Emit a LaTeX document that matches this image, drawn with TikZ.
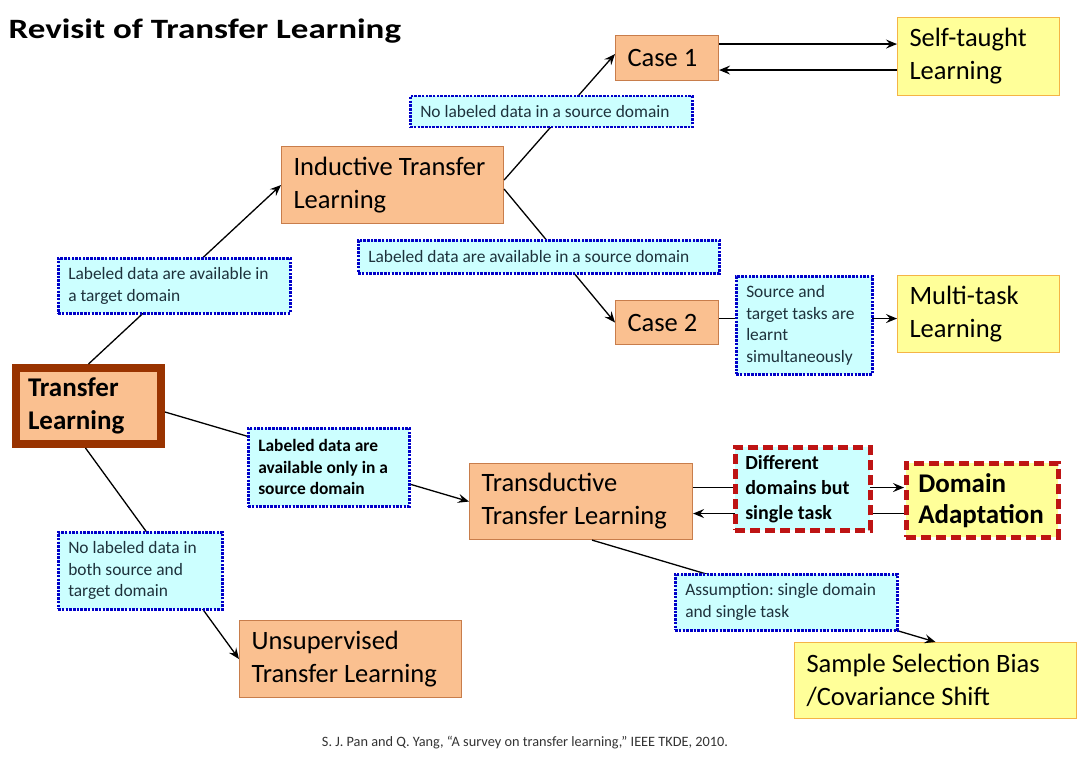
\documentclass[tikz,border=0pt]{standalone}
\usepackage{fontspec}
\setmainfont{Carlito}
\usepackage{xcolor}
\usetikzlibrary{arrows.meta, positioning, calc}
\frenchspacing

\definecolor{peach}{RGB}{250,192,144}
\definecolor{peachline}{RGB}{200,125,75}
\definecolor{lightyellow}{RGB}{255,255,153}
\definecolor{yellowline}{RGB}{245,180,70}
\definecolor{lightcyan}{RGB}{204,255,255}
\definecolor{dotblue}{RGB}{0,0,200}
\definecolor{condtext}{RGB}{30,50,60}
\definecolor{dashred}{RGB}{190,20,20}
\definecolor{tlbrown}{RGB}{153,51,0}

\begin{document}
\begin{tikzpicture}[x=1pt, y=-1pt, ->, >={Stealth[length=11pt, width=9pt, inset=4pt]}, line width=1.3pt]
  \tikzstyle{tbox} = [draw=peachline, fill=peach, line width=1.1pt, anchor=north west, align=flush left, inner xsep=12pt, inner ysep=0pt, font=\fontsize{26.5}{33}\selectfont]
  \tikzstyle{ybox} = [tbox, draw=yellowline, fill=lightyellow]
  \tikzstyle{cond} = [draw=dotblue, fill=lightcyan, line width=2.5pt, dash pattern=on 2.5pt off 1.2pt, anchor=north west, align=flush left, inner xsep=10pt, inner ysep=0pt, text=condtext, font=\fontsize{17.4}{21.7}\selectfont]
  \tikzstyle{redcut} = [draw=dashred, line width=4.5pt, dash pattern=on 10pt off 5pt]

  \useasboundingbox (0,0) rectangle (1080,757);

  \node[anchor=base west, inner sep=0pt, font=\bfseries\fontsize{28}{34}\selectfont] (title) at (8,39) {\scalebox{1.25}[1]{Revisit of Transfer Learning}};

  % main boxes
  \node[tbox, draw=tlbrown, line width=8pt, minimum height=76pt, text width=121pt, font=\bfseries\fontsize{27}{33}\selectfont] (tl) at (12,364) {Transfer\\Learning};
  \node[tbox, minimum height=77pt, text width=198pt] (ind) at (281,146) {Inductive Transfer\\Learning};
  \node[tbox, minimum height=45pt, text width=79pt] (case1) at (615,35) {Case 1};
  \node[tbox, minimum height=44pt, text width=79pt] (case2) at (615,300) {Case 2};
  \node[ybox, minimum height=78pt, text width=138pt] (self) at (897,17) {Self-taught\\Learning};
  \node[ybox, minimum height=77pt, text width=138pt] (multi) at (897,275) {Multi-task\\Learning};
  \node[tbox, minimum height=76pt, text width=199pt] (trans) at (469,463) {Transductive\\Transfer Learning};
  \node[tbox, minimum height=77pt, text width=198pt] (unsup) at (239,620) {Unsupervised\\Transfer Learning};
  \node[ybox, minimum height=76pt, text width=258pt] (ssb) at (794,642) {Sample Selection Bias\\/Covariance Shift};
  \node[ybox, redcut, minimum height=74pt, text width=128pt, font=\bfseries\fontsize{27}{31}\selectfont] (da) at (904,461) {Domain\\Adaptation};

  \coordinate (c1top) at ([yshift=14pt]case1.east);
  \coordinate (c1bot) at ([yshift=-12pt]case1.east);
  \coordinate (c2mid) at ([yshift=4pt]case2.east);
  \coordinate (ttop) at ([yshift=14pt]trans.east);
  \coordinate (tbot) at ([yshift=-12pt]trans.east);

  \path
    (tl.north) edge (ind.west)
    ([yshift=5pt]ind.east) edge ([yshift=4pt]case1.west)
    ([yshift=-4pt]ind.east) edge (case2.west)
    (c1top) edge (c1top -| self.west)
    (c1bot -| self.west) edge (c1bot)
    (c2mid) edge (c2mid -| multi.west)
    ([yshift=-6pt]tl.east) edge (trans.west)
    (ttop) edge (ttop -| da.west)
    (tbot -| da.west) edge (tbot)
    ([xshift=11pt]trans.south) edge (ssb.north)
    ([xshift=-3pt]tl.south) edge (unsup.west);

  % condition labels
  \node[cond, minimum height=31pt, text width=262pt] (nosrc) at (409,95) {No labeled data in a source domain};
  \node[cond, minimum height=33pt, text width=341pt] (src) at (357,239) {Labeled data are available in a source domain};
  \node[cond, minimum height=98pt, text width=116pt] (simul) at (735,275) {Source and\\target tasks are\\learnt\\simultaneously};
  \node[cond, minimum height=55pt, text width=212pt] (tgt) at (57,257) {Labeled data are available in\\a target domain};
  \node[cond, minimum height=78pt, text width=141pt, text=black, font=\bfseries\fontsize{17.4}{21.7}\selectfont] (onlysrc) at (247,427) {Labeled data are\\available only in a\\source domain};
  \node[cond, minimum height=56pt, text width=202pt] (assume) at (674,573) {Assumption: single domain\\and single task};
  \node[cond, minimum height=77pt, text width=144pt] (nolab) at (57,531) {No labeled data in\\both source and\\target domain};
  \node[cond, redcut, inner xsep=10pt, minimum height=83pt, text width=115pt, text=black, font=\bfseries\fontsize{20}{25}\selectfont] (diff) at (733,445) {Different\\domains but\\single task};

  \node[text=black!80, font=\fontsize{14.3}{17}\selectfont] (cite) at (525,743) {S. J. Pan and Q. Yang, “A survey on transfer learning,” IEEE TKDE, 2010.};
\end{tikzpicture}
\end{document}
